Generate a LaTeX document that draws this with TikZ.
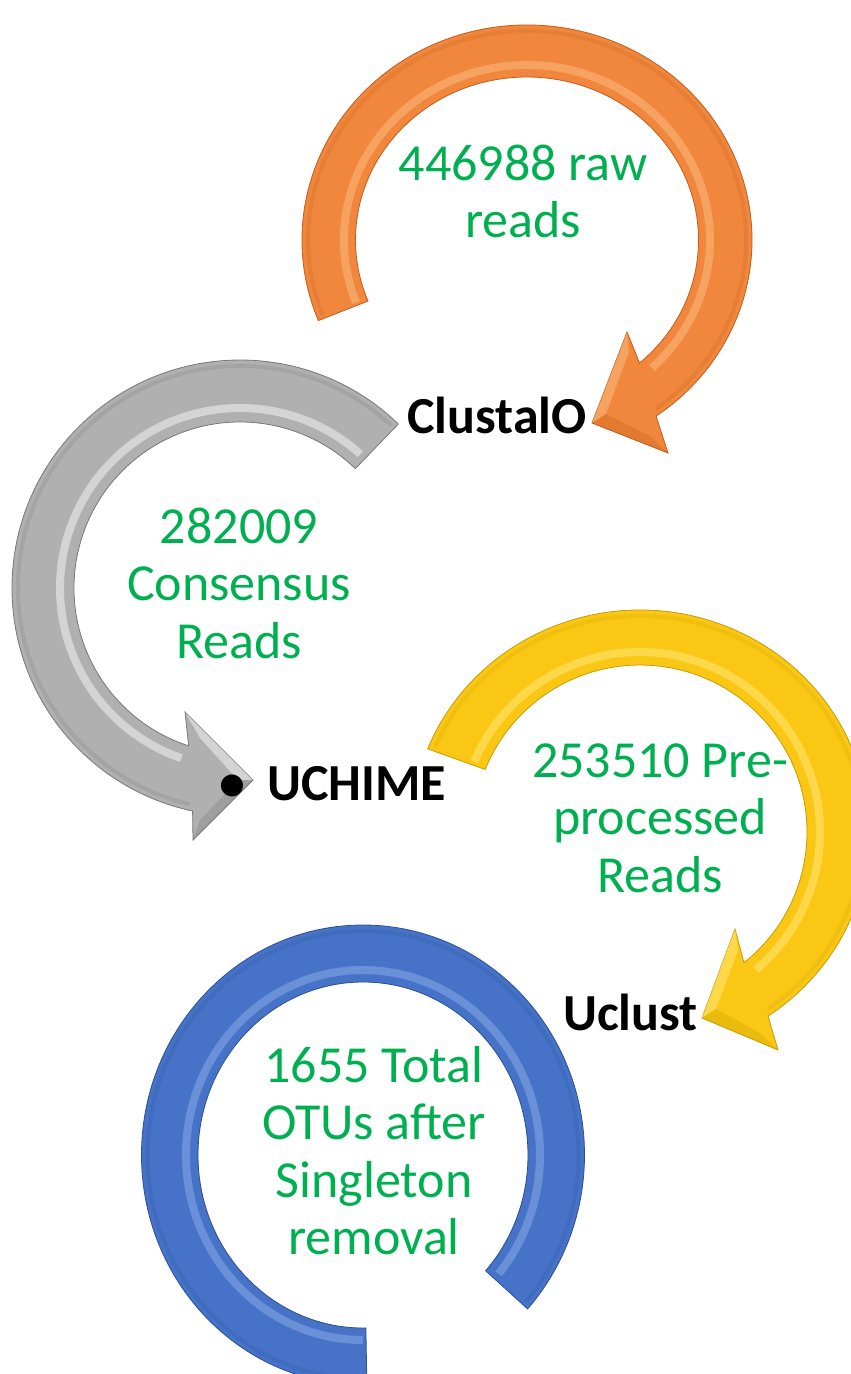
\documentclass[tikz,border=0pt]{standalone}
\usepackage{fontspec}
\setmainfont{Carlito}
\usetikzlibrary{calc}
\definecolor{txtgreen}{RGB}{0,176,80}
\definecolor{orbase}{RGB}{240,135,60}
\definecolor{ordark}{RGB}{196,92,28}
\definecolor{orlight}{RGB}{250,180,120}
\definecolor{grbase}{RGB}{176,176,176}
\definecolor{grdark}{RGB}{120,120,120}
\definecolor{grlight}{RGB}{236,236,236}
\definecolor{yebase}{RGB}{250,200,20}
\definecolor{yedark}{RGB}{200,155,0}
\definecolor{yelight}{RGB}{255,228,110}
\definecolor{blbase}{RGB}{70,115,200}
\definecolor{bldark}{RGB}{42,80,150}
\definecolor{bllight}{RGB}{130,165,228}
\begin{document}
\begin{tikzpicture}[x=1pt,y=-1pt,
  greentext/.style={text=txtgreen,font=\fontsize{52}{57.5}\selectfont,inner sep=0pt,anchor=base},
  steplabel/.style={text=black,font=\fontsize{52}{57.5}\selectfont\bfseries,inner sep=0pt,anchor=base west},
  body/.style={line width=0.8pt,line join=miter},
  shine/.style={line width=8pt,opacity=0.6},
  facet/.style={opacity=0.6},
  darkfacet/.style={opacity=0.3}]
\useasboundingbox (0,0) rectangle (851,1374);
\clip (0,0) rectangle (851,1374);

% ---------- orange arrow ----------
\coordinate (oc) at (527,240);
\path[body,fill=orbase,draw=ordark]
  ($(oc)+(-202:225 and 215)$) arc[start angle=-202,end angle=55,x radius=225,y radius=215]
  -- (668,453) -- (592,423) -- (627,332)
  -- ($(oc)+(49:171.5 and 163)$) arc[start angle=49,end angle=-202,x radius=171.5,y radius=163] -- cycle;
\draw[shine,orlight] ($(oc)+(-201:183 and 175)$) arc[start angle=-201,end angle=47,x radius=183,y radius=175];
\draw[line width=4pt,ordark,opacity=0.2] ($(oc)+(-201:219 and 209)$) arc[start angle=-201,end angle=54,x radius=219,y radius=209];
\fill[facet,orlight] (627,332) -- (592,423) -- (606,414) -- (629,352) -- cycle;
\fill[darkfacet,ordark] (592,423) -- (668,453) -- (650,436) -- (606,414) -- cycle;

% ---------- grey arrow ----------
\coordinate (gc) at (240,588);
\path[body,fill=grbase,draw=grdark]
  ($(gc)+(-46:228)$) arc[start angle=-46,end angle=-258,radius=228]
  -- (193,840) -- (253,780) -- (185,712)
  -- ($(gc)+(-252:166)$) arc[start angle=-252,end angle=-46,radius=166] -- cycle;
\draw[shine,grlight] ($(gc)+(-48:180)$) arc[start angle=-48,end angle=-251,radius=180];
\draw[line width=4pt,grdark,opacity=0.2] ($(gc)+(-47:222)$) arc[start angle=-47,end angle=-257,radius=222];
\fill[facet,grlight] (185,712) -- (253,780) -- (238,780) -- (200,738) -- cycle;
\fill[darkfacet,grdark] (253,780) -- (193,840) -- (200,820) -- (238,780) -- cycle;

% ---------- yellow arrow ----------
\coordinate (yc) at (640,832);
\path[body,fill=yebase,draw=yedark]
  ($(yc)+(-158:229 and 222)$) arc[start angle=-158,end angle=56,x radius=229,y radius=222]
  -- (778,1050) -- (702,1018) -- (735,929)
  -- ($(yc)+(51.5:167)$) arc[start angle=51.5,end angle=-158,radius=167] -- cycle;
\draw[shine,yelight] ($(yc)+(-157:180)$) arc[start angle=-157,end angle=50,radius=180];
\draw[line width=4pt,yedark,opacity=0.2] ($(yc)+(-157:223 and 216)$) arc[start angle=-157,end angle=55,x radius=223,y radius=216];
\fill[facet,yelight] (735,929) -- (702,1018) -- (716,1009) -- (738,950) -- cycle;
\fill[darkfacet,yedark] (702,1018) -- (778,1050) -- (760,1033) -- (716,1009) -- cycle;

% ---------- blue ring ----------
\coordinate (bc) at (363,1155);
\path[body,fill=blbase,draw=bldark]
  ($(bc)+(89:221.5 and 230)$) arc[start angle=89,end angle=402,x radius=221.5,y radius=230]
  -- ($(bc)+(402:165 and 173)$) arc[start angle=402,end angle=89,x radius=165,y radius=173] -- cycle;
\draw[shine,bllight] ($(bc)+(90:177 and 185)$) arc[start angle=90,end angle=400,x radius=177,y radius=185];
\draw[line width=4pt,bldark,opacity=0.2] ($(bc)+(90:215.5 and 224)$) arc[start angle=90,end angle=401,x radius=215.5,y radius=224];

% ---------- labels ----------
\node[greentext] (raw) at (523,180) {\begin{tabular}[t]{@{}c@{}}446988 raw\\reads\end{tabular}};
\node[greentext] (consensus) at (239,543) {\begin{tabular}[t]{@{}c@{}}282009\\Consensus\\Reads\end{tabular}};
\node[greentext] (pre) at (660,777) {\begin{tabular}[t]{@{}c@{}}253510 Pre-\\processed\\Reads\end{tabular}};
\node[greentext] (otus) at (374,1082) {\begin{tabular}[t]{@{}c@{}}1655 Total\\OTUs after\\Singleton\\removal\end{tabular}};

\node[steplabel] (clustalo) at (407,433) {ClustalO};
\node[steplabel] (uchime) at (219,800) {•\hspace{22pt}UCHIME};
\node[steplabel] (uclust) at (563,1030) {Uclust};
\end{tikzpicture}
\end{document}
